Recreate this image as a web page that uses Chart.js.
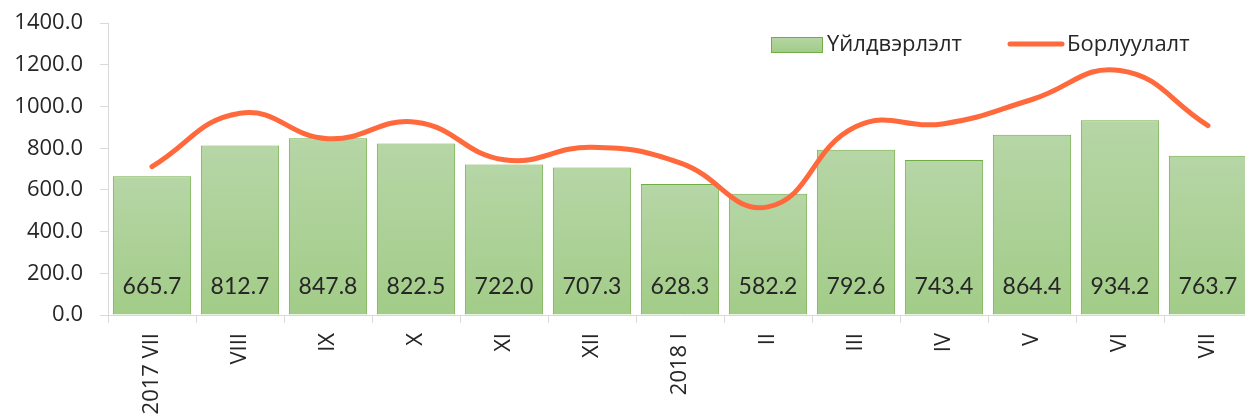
<!DOCTYPE html>
<html>
<head>
<meta charset="utf-8">
<script src="https://cdn.jsdelivr.net/npm/chart.js@4"></script>
<style>
html,body{margin:0;padding:0;background:#fff;overflow:hidden;width:1245px;height:416px;}
#wrap{position:absolute;left:0;top:-7px;width:1253px;height:423px;}
</style>
</head>
<body>
<div id="wrap"><canvas id="c" width="1253" height="423"></canvas></div>
<script>
const categories = ["2017 VII","VIII","IX","X","XI","XII","2018 I","II","III","IV","V","VI","VII"];
const productionLabel = "Үйлдвэрлэлт";
const salesLabel = "Борлуулалт";
const production = [665.7,812.7,847.8,822.5,722.0,707.3,628.3,582.2,792.6,743.4,864.4,934.2,763.7];
const sales = [712,968,846,925,745,805,730,519,904,918,1034,1173,909];
const yTicks = [0,200,400,600,800,1000,1200,1400];

const TEXT = '#262626';
const AXIS = '#d9d9d9';
const BAR_BORDER = '#70ad47';
const LINE = '#ff693c';
const SHIFT = 7; // canvas is placed 7px above the page top

function barGradient(ctx){
  const chart = ctx.chart;
  const area = chart.chartArea;
  if(!area) return '#acd197';
  const ys = chart.scales.y;
  const top = ys.getPixelForValue(ctx.raw);
  const bottom = ys.getPixelForValue(0);
  const g = chart.ctx.createLinearGradient(0, top, 0, bottom);
  g.addColorStop(0, '#b6d6a6');
  g.addColorStop(1, '#a2cc88');
  return g;
}

const labelsPlugin = {
  id:'barValues',
  afterDatasetsDraw(chart){
    const c = chart.ctx;
    const meta = chart.getDatasetMeta(1);
    const y0 = chart.scales.y.getPixelForValue(0);
    c.save();
    c.font = '23px Lato, "Open Sans", sans-serif';
    c.fillStyle = TEXT;
    c.textAlign = 'center';
    c.textBaseline = 'middle';
    meta.data.forEach((el,i)=>{
      c.fillText(production[i].toFixed(1), el.x, y0 - 28);
    });
    c.restore();
  }
};

const legendPlugin = {
  id:'customLegend',
  afterDraw(chart){
    const c = chart.ctx;
    c.save();
    c.translate(0, SHIFT);
    const g = c.createLinearGradient(0,37,0,52);
    g.addColorStop(0,'#b6d6a6'); g.addColorStop(1,'#a2cc88');
    c.fillStyle = g;
    c.fillRect(771.5,37.5,51,15);
    c.strokeStyle = BAR_BORDER; c.lineWidth = 1;
    c.strokeRect(771.5,37.5,51,15);
    c.font = '22px "Open Sans", "Noto Sans", sans-serif';
    c.fillStyle = TEXT;
    c.textBaseline = 'middle';
    c.textAlign = 'left';
    c.fillText(productionLabel, 827, 45);
    c.strokeStyle = LINE; c.lineWidth = 5; c.lineCap = 'round';
    c.beginPath(); c.moveTo(1010,44); c.lineTo(1062,44); c.stroke();
    c.fillText(salesLabel, 1067, 45);
    c.restore();
  }
};

new Chart(document.getElementById('c'), {
  type:'bar',
  data:{
    labels:categories,
    datasets:[
      {type:'line', label:salesLabel, data:sales, borderColor:LINE, borderWidth:5,
       pointRadius:0, tension:0.45, fill:false, order:0, borderCapStyle:'round', borderJoinStyle:'round'},
      {type:'bar', label:productionLabel, data:production, backgroundColor:barGradient,
       borderColor:BAR_BORDER, borderWidth:1, categoryPercentage:1, barPercentage:0.89, order:1}
    ]
  },
  plugins:[labelsPlugin, legendPlugin],
  options:{
    responsive:false,
    animation:false,
    devicePixelRatio:1,
    layout:{padding:{top:17,right:1,left:0,bottom:0}},
    plugins:{legend:{display:false}, tooltip:{enabled:false}},
    scales:{
      x:{
        offset:true,
        grid:{display:true, drawOnChartArea:false, drawTicks:true, tickLength:8, color:AXIS, offset:true},
        border:{display:true, color:AXIS, width:1},
        ticks:{maxRotation:90, minRotation:90, padding:10, color:TEXT, autoSkip:false,
          font:{family:'"Open Sans", "Noto Sans", sans-serif', size:22}},
        afterFit(s){ s.height = 101; }
      },
      y:{
        min:0, max:1400,
        afterBuildTicks(s){ s.ticks = yTicks.map(v=>({value:v})); },
        grid:{display:true, drawOnChartArea:false, drawTicks:true, tickLength:8, color:AXIS},
        border:{display:true, color:AXIS, width:1},
        ticks:{padding:17, color:TEXT, callback:(v)=>Number(v).toFixed(1),
          font:{family:'"Open Sans", "Noto Sans", sans-serif', size:22}},
        afterFit(s){ s.width = 108; }
      }
    }
  }
});
</script>
</body>
</html>
